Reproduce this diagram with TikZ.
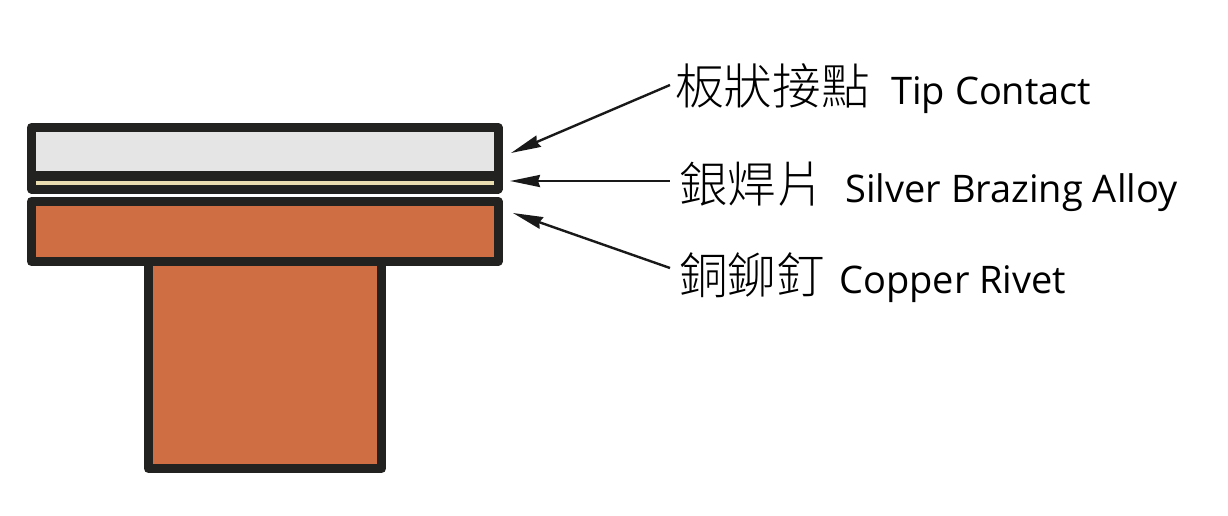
\documentclass[tikz,border=0pt]{standalone}
\usepackage{fontspec}
\setmainfont{Open Sans}
\newfontfamily\cjk{Noto Sans CJK TC Light}
\usetikzlibrary{arrows.meta}
\definecolor{copper}{HTML}{CF6D43}
\definecolor{tipgrey}{HTML}{E5E5E5}
\definecolor{foil}{HTML}{EADDB0}
\definecolor{outline}{HTML}{222220}
\tikzset{
  part/.style = { line width=6.75pt, draw=outline, line join=round },
  arrow/.style = { line width=1.8pt, color=black!90, {Stealth[length=22.5pt, width=9pt, inset=1.5pt]}-},
  partname/.style = { anchor=base west, inner xsep=0pt, inner ysep=0pt, font=\fontsize{28.5}{30}\selectfont }
}
\newcommand{\zhtext}[1]{{\cjk\fontsize{36.5}{40}\selectfont #1}}

\begin{document}
\begin{tikzpicture}[x=0.75pt, y=-0.75pt]
  \useasboundingbox (0,0) rectangle (1228,515);
  \fill[white] (0,0) rectangle (1228,515);

  % rivet stem, then head
  \draw[part, fill=copper] (148.5,261) rectangle (381.5,468.5);
  \draw[part, fill=copper] (31.5,201.5) rectangle (498,261.5);

  % tip contact with the alloy under it
  \draw[part, fill=outline] (31.5,127.5) rectangle (498,189);
  \fill[tipgrey] (36,132) rectangle (493.5,171);
  \fill[foil] (36,180.5) rectangle (493.5,184.5);

  \node[partname] (tiplabel) at (675,104) {\zhtext{板狀接點}\hspace{16pt}Tip Contact};
  \node[partname] (alloylabel) at (679,202) {\zhtext{銀焊片}\hspace{15pt}Silver Brazing Alloy};
  \node[partname] (rivetlabel) at (679,293) {\zhtext{銅鉚釘}\hspace{10.5pt}Copper Rivet};

  \coordinate (tipend) at (511,153);
  \coordinate (alloyend) at (510,181);
  \coordinate (rivetend) at (513,213);
  \coordinate (tipstart) at (670,85);
  \coordinate (alloystart) at (670,181);
  \coordinate (rivetstart) at (670,268);

  \foreach \i in {tip, alloy, rivet} {
    \draw [arrow] (\i end) -- (\i start);
  }
\end{tikzpicture}
\end{document}
